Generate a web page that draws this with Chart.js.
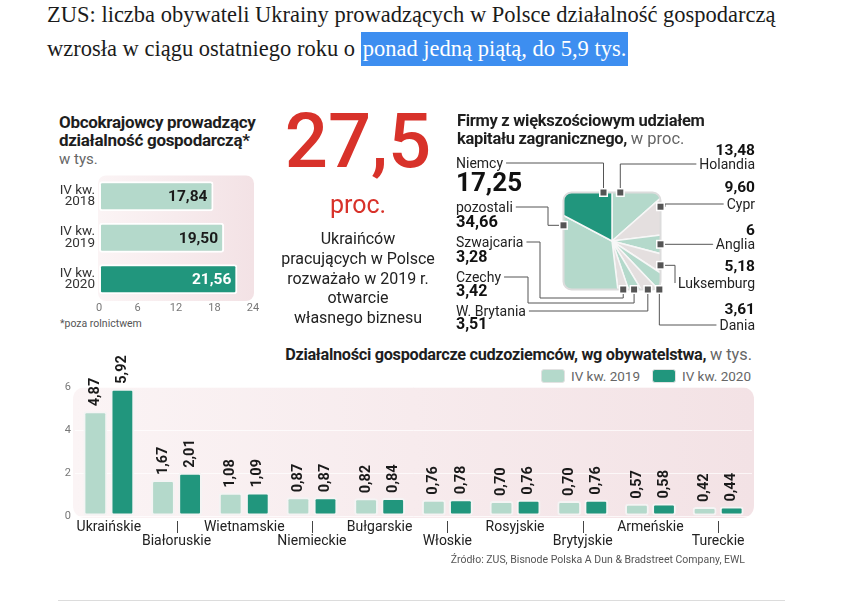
<!DOCTYPE html>
<html lang="pl">
<head>
<meta charset="utf-8">
<title>Obcokrajowcy w Polsce</title>
<script src="https://cdn.jsdelivr.net/npm/chart.js@4.4.1/dist/chart.umd.min.js"></script>
<style>
  body { margin:0; width:850px; height:602px; position:relative; overflow:hidden; background:#fff; font-family:Roboto,sans-serif; color:#222; }
  .a { position:absolute; white-space:nowrap; }
  canvas { position:absolute; }
  .headline { left:47px; top:-2px; font-family:"Liberation Serif",serif; font-size:22.5px; line-height:34px; color:#1b1b1b; }
  .headline .hl { background:#3d8ef0; color:#fff; padding:4px 2px 5px; }
  .title { font-weight:700; font-size:17px; line-height:18px; color:#1e1e1e; letter-spacing:-0.3px; }
  .unit { font-weight:400; color:#666; letter-spacing:0; }
  .big { left:258px; width:200px; text-align:center; color:#d8322a; }
  .note { left:258px; width:200px; text-align:center; font-size:16px; line-height:19.8px; color:#222; top:229px; }
  .pl { font-size:14px; line-height:14px; color:#222; }
  .pv { font-weight:700; color:#111; }
  .sw { width:22px; height:12px; border-radius:3px; border:1px solid #e2e2e2; }
  .lg { font-size:13.5px; line-height:14px; color:#666; }
</style>
</head>
<body>
<div class="a headline">ZUS: liczba obywateli Ukrainy prowadzących w Polsce działalność gospodarczą<br>wzrosła w ciągu ostatniego roku o <span class="hl">ponad jedną piątą, do 5,9 tys.</span></div>

<div class="a title" style="left:59px;top:113px">Obcokrajowcy prowadzący<br>działalność gospodarczą*<br><span class="unit" style="font-size:15px">w tys.</span></div>
<div class="a" style="left:60px;top:317px;font-size:10.5px;color:#555">*poza rolnictwem</div>
<canvas id="totalChart" style="left:50px;top:160px" width="215" height="162"></canvas>

<div class="a big" style="top:103px;font-size:76px;line-height:76px;font-weight:500">27,5</div>
<div class="a big" style="top:192px;font-size:25px;line-height:25px">proc.</div>
<div class="a note">Ukraińców<br>pracujących w Polsce<br>rozważało w 2019 r.<br>otwarcie<br>własnego biznesu</div>

<div class="a title" style="left:457px;top:112px;font-size:16.5px">Firmy z większościowym udziałem<br>kapitału zagranicznego, <span class="unit">w proc.</span></div>
<canvas id="shareChart" style="left:440px;top:140px" width="330" height="200"></canvas>

<div class="a title" style="right:98px;top:346px;font-size:16.3px">Działalności gospodarcze cudzoziemców, wg obywatelstwa, <span class="unit">w tys.</span></div>
<div class="a sw" style="left:541px;top:369px;background:#b4d9cb"></div>
<div class="a lg" style="left:571px;top:369px">IV kw. 2019</div>
<div class="a sw" style="left:652px;top:369px;background:#21967d"></div>
<div class="a lg" style="left:682px;top:369px">IV kw. 2020</div>
<canvas id="nationChart" style="left:30px;top:340px" width="780" height="215"></canvas>
<div class="a" style="right:105px;top:553px;font-size:10.5px;color:#555">Źródło: ZUS, Bisnode Polska A Dun &amp; Bradstreet Company, EWL</div>
<div class="a" style="left:58px;top:600px;width:727px;height:1px;background:#dcdcdc"></div>

<script>
// data
const totalLabels = [['IV kw.', '2018'], ['IV kw.', '2019'], ['IV kw.', '2020']];
const totalValues = [17.84, 19.50, 21.56];
const totalTicks = [0, 6, 12, 18, 24];

const shareNames = ['Holandia', 'Cypr', 'Anglia', 'Luksemburg', 'Dania', 'W. Brytania', 'Czechy', 'Szwajcaria', 'pozostali', 'Niemcy'];
const shareValues = [13.48, 9.60, 6, 5.18, 3.61, 3.51, 3.42, 3.28, 34.66, 17.25];

const nationLabels = ['Ukraińskie', 'Białoruskie', 'Wietnamskie', 'Niemieckie', 'Bułgarskie', 'Włoskie', 'Rosyjskie', 'Brytyjskie', 'Armeńskie', 'Tureckie'];
const values2019 = [4.87, 1.67, 1.08, 0.87, 0.82, 0.76, 0.70, 0.70, 0.57, 0.42];
const values2020 = [5.92, 2.01, 1.09, 0.87, 0.84, 0.78, 0.76, 0.76, 0.58, 0.44];
const nationTicks = [0, 2, 4, 6];

// styles
const LIGHT = '#b4d9cb';
const DARK = '#21967d';
const GREY = '#e4dfdf';
const FONT = 'Roboto, sans-serif';
Chart.defaults.font.family = FONT;
Chart.defaults.animation = false;
Chart.defaults.plugins.legend.display = false;
Chart.defaults.plugins.tooltip.enabled = false;

const fmt = v => Number.isInteger(v) ? String(v) : v.toFixed(2).replace('.', ',');

// pink panel behind the bars
function panel(ctx, a, r, ext) {
  const g = ctx.createLinearGradient(a.left, 0, a.right, 0);
  g.addColorStop(0, '#fbf4f5');
  g.addColorStop(1, '#f3e2e5');
  ctx.save();
  ctx.fillStyle = g;
  ctx.beginPath();
  ctx.roundRect(a.left - ext, a.top, a.right - a.left + ext * 2, a.bottom - a.top + ext, r);
  ctx.fill();
  ctx.restore();
}

// ---- top-left: horizontal bars
new Chart(document.getElementById('totalChart'), {
  type: 'bar',
  data: {
    labels: totalLabels,
    datasets: [{
      data: totalValues,
      backgroundColor: totalValues.map((v, i) => i === totalValues.length - 1 ? DARK : LIGHT),
      borderColor: '#ffffff',
      borderWidth: 2,
      borderRadius: 3,
      borderSkipped: false,
      categoryPercentage: 1,
      barPercentage: 0.72
    }]
  },
  options: {
    indexAxis: 'y',
    responsive: false,
    layout: { padding: { top: 5, right: 12, left: 0, bottom: 0 } },
    scales: {
      x: {
        min: 0, max: 24,
        afterBuildTicks: s => { s.ticks = totalTicks.map(v => ({ value: v })); },
        afterFit: s => { s.height = 22; },
        grid: { display: false, drawTicks: false }, border: { display: false },
        ticks: { color: '#777', font: { size: 11 }, padding: 2 }
      },
      y: {
        afterFit: s => { s.width = 49; },
        grid: { display: false, drawTicks: false }, border: { display: false },
        ticks: { color: '#333', font: { size: 13.5, lineHeight: 0.85 }, padding: 4 }
      }
    }
  },
  plugins: [{
    id: 'totalDecor',
    beforeDatasetsDraw(chart) { panel(chart.ctx, chart.chartArea, 8, 1); },
    afterDatasetsDraw(chart) {
      const ctx = chart.ctx;
      ctx.save();
      ctx.font = 'bold 15.5px ' + FONT;
      ctx.textAlign = 'right';
      ctx.textBaseline = 'middle';
      chart.getDatasetMeta(0).data.forEach((bar, i) => {
        ctx.fillStyle = i === totalValues.length - 1 ? '#ffffff' : '#1a1a1a';
        ctx.fillText(fmt(totalValues[i]), bar.x - 6, bar.y + 1);
      });
      ctx.restore();
    }
  }]
});

// ---- top-right: pie clipped to a rounded square, with elbow leaders
const SHARE_COLORS = [LIGHT, GREY, LIGHT, GREY, LIGHT, GREY, LIGHT, GREY, LIGHT, DARK];
const HALF = 48.5;
const OX = 440, OY = 140;
const pieLayout = {
  'Niemcy':      { side: 'left',  x: 456, nameY: 163, valY: 182, valSize: 26, t: 0.84, steps: [] },
  'pozostali':   { side: 'left',  x: 456, nameY: 207, valY: 222, valSize: 16.5, t: 0.92, steps: [['x', 548]] },
  'Szwajcaria':  { side: 'left',  x: 456, nameY: 242, valY: 257, valSize: 16, t: 0.48, steps: [['x', 540], ['y', 298]] },
  'Czechy':      { side: 'left',  x: 456, nameY: 277, valY: 291, valSize: 16, t: 0.53, steps: [['x', 528], ['y', 303]] },
  'W. Brytania': { side: 'left',  x: 456, nameY: 311, valY: 324, valSize: 16, t: 0.57, steps: [] },
  'Holandia':    { side: 'right', x: 755, nameY: 164, valY: 151, valSize: 15.5, t: 0.20, steps: [] },
  'Cypr':        { side: 'right', x: 755, nameY: 204, valY: 188, valSize: 15.5, t: 0.18, steps: [['x', 665]] },
  'Anglia':      { side: 'right', x: 755, nameY: 244, valY: 231, valSize: 15.5, t: 0.50, steps: [] },
  'Luksemburg':  { side: 'right', x: 755, nameY: 283, valY: 267, valSize: 15.5, t: 0.64, steps: [['x', 675]] },
  'Dania':       { side: 'right', x: 755, nameY: 325, valY: 310, valSize: 15.5, t: 0.95, steps: [] }
};

// labels as html, remember where each leader starts
shareNames.forEach((name, i) => {
  const L = pieLayout[name];
  const nm = document.createElement('div');
  nm.className = 'a pl';
  nm.textContent = name;
  const vl = document.createElement('div');
  vl.className = 'a pv';
  vl.textContent = fmt(shareValues[i]);
  vl.style.fontSize = L.valSize + 'px';
  vl.style.lineHeight = L.valSize + 'px';
  nm.style.top = (L.nameY - 7) + 'px';
  vl.style.top = (L.valY - L.valSize / 2) + 'px';
  [nm, vl].forEach(el => {
    if (L.side === 'left') el.style.left = L.x + 'px';
    else el.style.right = (850 - L.x) + 'px';
    document.body.appendChild(el);
  });
  const w = nm.getBoundingClientRect().width;
  L.startX = L.side === 'left' ? L.x + w + 3 : L.x - w - 3;
});

new Chart(document.getElementById('shareChart'), {
  type: 'pie',
  data: {
    labels: shareNames,
    datasets: [{
      data: shareValues,
      backgroundColor: SHARE_COLORS,
      borderColor: '#f7f7f7',
      borderWidth: 1.5,
      radius: 74
    }]
  },
  options: {
    responsive: false,
    layout: { padding: { left: 44, right: 30, top: 12, bottom: 10 } }
  },
  plugins: [{
    id: 'squarePie',
    beforeDatasetsDraw(chart) {
      const c = chart.getDatasetMeta(0).data[0];
      const ctx = chart.ctx;
      ctx.save();
      ctx.beginPath();
      ctx.roundRect(c.x - HALF, c.y - HALF, HALF * 2, HALF * 2, 8);
      ctx.clip();
    },
    afterDatasetsDraw(chart) {
      const ctx = chart.ctx;
      ctx.restore();
      const arcs = chart.getDatasetMeta(0).data;
      const cx = arcs[0].x, cy = arcs[0].y;
      ctx.save();
      ctx.strokeStyle = '#dcdcdc';
      ctx.lineWidth = 2;
      ctx.beginPath();
      ctx.roundRect(cx - HALF, cy - HALF, HALF * 2, HALF * 2, 8);
      ctx.stroke();

      const markers = [];
      arcs.forEach((el, i) => {
        const L = pieLayout[shareNames[i]];
        const a = el.startAngle + L.t * (el.endAngle - el.startAngle);
        const co = Math.cos(a), si = Math.sin(a);
        const k = HALF / Math.max(Math.abs(co), Math.abs(si));
        const m = { x: cx + k * co, y: cy + k * si, vert: Math.abs(si) >= Math.abs(co) };
        let p = { x: L.startX - OX, y: L.nameY - OY };
        const pts = [p];
        L.steps.forEach(([axis, v]) => {
          p = axis === 'x' ? { x: v - OX, y: p.y } : { x: p.x, y: v - OY };
          pts.push(p);
        });
        pts.push(m.vert ? { x: m.x, y: p.y } : { x: p.x, y: m.y });
        pts.push(m);
        ctx.strokeStyle = '#555';
        ctx.lineWidth = 1;
        ctx.beginPath();
        pts.forEach((q, j) => j ? ctx.lineTo(q.x, q.y) : ctx.moveTo(q.x, q.y));
        ctx.stroke();
        markers.push(m);
      });
      markers.forEach(m => {
        ctx.fillStyle = '#ffffff';
        ctx.fillRect(m.x - 4.5, m.y - 4.5, 9, 9);
        ctx.fillStyle = '#555';
        ctx.fillRect(m.x - 3, m.y - 3, 6, 6);
      });
      ctx.restore();
    }
  }]
});

// ---- bottom: grouped bars by citizenship
new Chart(document.getElementById('nationChart'), {
  type: 'bar',
  data: {
    labels: nationLabels,
    datasets: [
      { label: 'IV kw. 2019', data: values2019, backgroundColor: LIGHT },
      { label: 'IV kw. 2020', data: values2020, backgroundColor: DARK }
    ]
  },
  options: {
    responsive: false,
    layout: { padding: { top: 47, right: 58, left: 0, bottom: 0 } },
    datasets: {
      bar: {
        borderColor: '#f4f4f4',
        borderWidth: 2,
        borderRadius: 3,
        borderSkipped: false,
        categoryPercentage: 0.8,
        barPercentage: 0.88,
        clip: false
      }
    },
    scales: {
      x: {
        afterFit: s => { s.height = 39; },
        grid: { display: false, drawTicks: false }, border: { display: false },
        ticks: {
          color: '#222', font: { size: 14, lineHeight: 1 }, padding: 4, maxRotation: 0, autoSkip: false,
          callback: (v, i) => i % 2 ? ['', nationLabels[i]] : nationLabels[i]
        }
      },
      y: {
        min: 0, max: 6,
        afterBuildTicks: s => { s.ticks = nationTicks.map(v => ({ value: v })); },
        afterFit: s => { s.width = 45; },
        grid: { color: 'rgba(255,255,255,0.7)', drawTicks: false },
        border: { display: false },
        ticks: { color: '#777', font: { size: 11 }, padding: 4 }
      }
    }
  },
  plugins: [{
    id: 'nationDecor',
    beforeDraw(chart) { panel(chart.ctx, chart.chartArea, 12, 2); },
    afterDatasetsDraw(chart) {
      const ctx = chart.ctx;
      const a = chart.chartArea;
      const xs = chart.scales.x;
      ctx.save();
      // leader ticks for labels on the second row
      ctx.strokeStyle = '#444';
      ctx.lineWidth = 1;
      nationLabels.forEach((l, i) => {
        if (i % 2 === 0) return;
        const x = Math.round(xs.getPixelForTick(i)) + 0.5;
        ctx.beginPath();
        ctx.moveTo(x, a.bottom + 5);
        ctx.lineTo(x, a.bottom + 17);
        ctx.stroke();
      });
      // vertical value labels
      ctx.font = 'bold 14.5px ' + FONT;
      ctx.fillStyle = '#1a1a1a';
      ctx.textAlign = 'left';
      ctx.textBaseline = 'middle';
      chart.data.datasets.forEach((ds, d) => {
        chart.getDatasetMeta(d).data.forEach((bar, i) => {
          ctx.save();
          ctx.translate(bar.x, bar.y - 5);
          ctx.rotate(-Math.PI / 2);
          ctx.fillText(fmt(ds.data[i]), 0, 0);
          ctx.restore();
        });
      });
      ctx.restore();
    }
  }]
});
</script>
</body>
</html>
